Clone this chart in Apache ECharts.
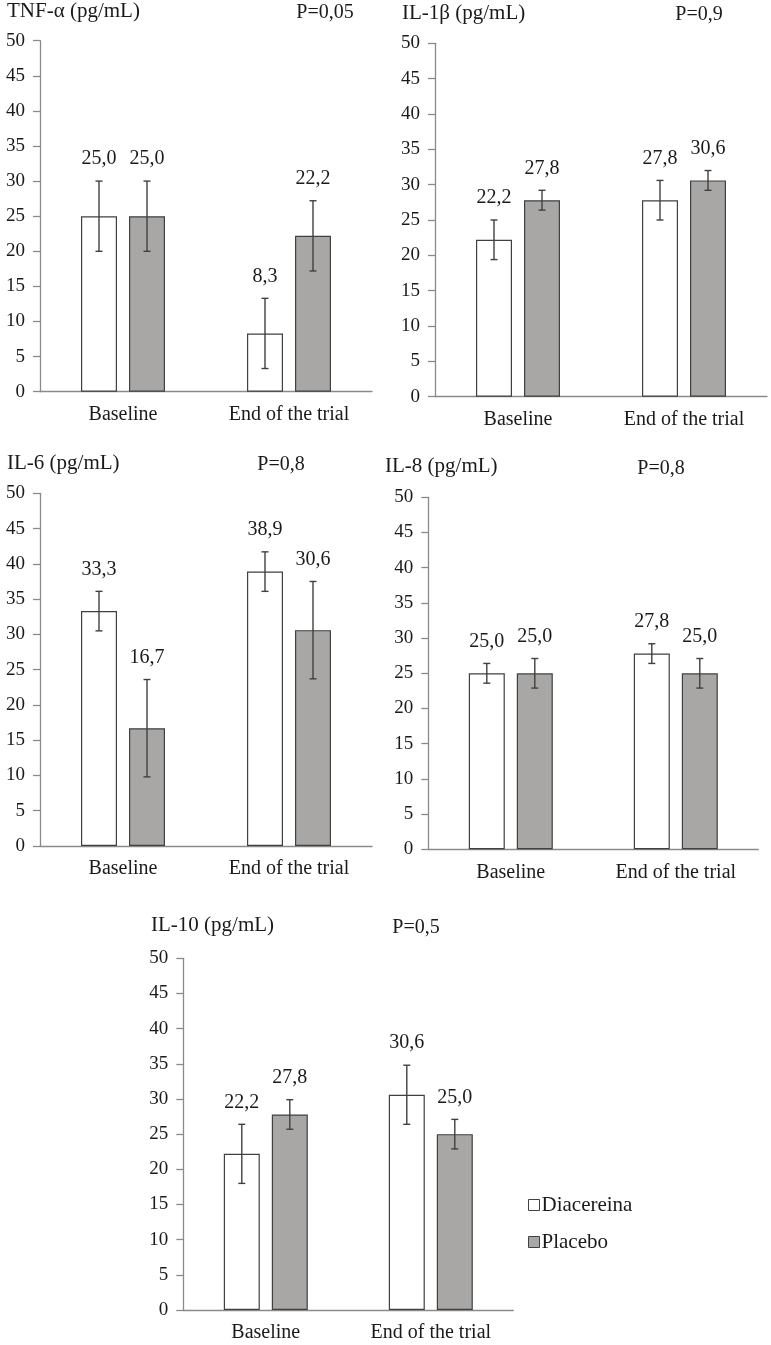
<!DOCTYPE html>
<html>
<head>
<meta charset="utf-8">
<script src="https://cdn.jsdelivr.net/npm/echarts@6/dist/echarts.min.js"></script>
<style>
html,body{margin:0;padding:0;background:#fff;}
#chart{width:771px;height:1345px;}
</style>
</head>
<body>
<div id="chart"></div>
<script>
// ---- data ----
const categories = ['Baseline', 'End of the trial'];
const yTicks = [0, 5, 10, 15, 20, 25, 30, 35, 40, 45, 50];
const panelTitles = ['TNF-α (pg/mL)', 'IL-1β (pg/mL)', 'IL-6 (pg/mL)', 'IL-8 (pg/mL)', 'IL-10 (pg/mL)'];
const pValues = ['P=0,05', 'P=0,9', 'P=0,8', 'P=0,8', 'P=0,5'];
const seriesNames = ['Diacereina', 'Placebo'];

const tnfDia = [25.0, 8.3];
const tnfPla = [25.0, 22.2];
const tnfDiaErr = [5.0, 5.0];
const tnfPlaErr = [5.0, 5.0];

const il1bDia = [22.2, 27.8];
const il1bPla = [27.8, 30.6];
const il1bDiaErr = [2.8, 2.8];
const il1bPlaErr = [1.4, 1.4];

const il6Dia = [33.3, 38.9];
const il6Pla = [16.7, 30.6];
const il6DiaErr = [2.8, 2.8];
const il6PlaErr = [6.9, 6.9];

const il8Dia = [25.0, 27.8];
const il8Pla = [25.0, 25.0];
const il8DiaErr = [1.4, 1.4];
const il8PlaErr = [2.1, 2.1];

const il10Dia = [22.2, 30.6];
const il10Pla = [27.8, 25.0];
const il10DiaErr = [4.2, 4.2];
const il10PlaErr = [2.1, 2.1];

// ---- layout / style ----
const FONT = '"Liberation Serif", "Times New Roman", serif';
const TXT = '#1a1a1a';
const AXIS = '#8a8a8a';
const EDGE = '#404040';
const GREY = '#a9a7a6';
const BAR_W = 36, BAR_GAP = 12;

const panels = [
  {dia: tnfDia, pla: tnfPla, diaErr: tnfDiaErr, plaErr: tnfPlaErr,
   grid: {left: 40, top: 40.7, width: 332, height: 351},
   title: [7, 13], p: [325, 13]},
  {dia: il1bDia, pla: il1bPla, diaErr: il1bDiaErr, plaErr: il1bPlaErr,
   grid: {left: 435, top: 43.3, width: 332, height: 353.4},
   title: [402, 15], p: [699, 15]},
  {dia: il6Dia, pla: il6Pla, diaErr: il6DiaErr, plaErr: il6PlaErr,
   grid: {left: 40, top: 493.3, width: 332, height: 352.7},
   title: [7, 465], p: [281, 465]},
  {dia: il8Dia, pla: il8Pla, diaErr: il8DiaErr, plaErr: il8PlaErr,
   grid: {left: 428.3, top: 497.3, width: 330, height: 352},
   title: [385, 468], p: [661, 469]},
  {dia: il10Dia, pla: il10Pla, diaErr: il10DiaErr, plaErr: il10PlaErr,
   grid: {left: 183.3, top: 958.3, width: 330, height: 351.7},
   title: [151, 927], p: [416, 928]}
];

const fmt = v => v.toFixed(1).replace('.', ',');

const grids = [], xAxes = [], yAxes = [], series = [], graphics = [];

panels.forEach((p, i) => {
  grids.push(Object.assign({containLabel: false}, p.grid));
  xAxes.push({
    type: 'category', gridIndex: i, data: categories,
    axisTick: {show: false},
    axisLine: {lineStyle: {color: AXIS, width: 1.3}},
    axisLabel: {color: TXT, fontFamily: FONT, fontSize: 20, margin: 13}
  });
  yAxes.push({
    type: 'value', gridIndex: i, min: yTicks[0], max: yTicks[yTicks.length - 1], interval: yTicks[1] - yTicks[0],
    splitLine: {show: false},
    axisLine: {show: true, lineStyle: {color: AXIS, width: 1.3}},
    axisTick: {show: true, length: 7, lineStyle: {color: AXIS, width: 1.3}},
    axisLabel: {color: TXT, fontFamily: FONT, fontSize: 19, margin: 15}
  });
  series.push({
    name: seriesNames[0], type: 'bar', xAxisIndex: i, yAxisIndex: i,
    data: p.dia, barWidth: BAR_W, barGap: (BAR_GAP / BAR_W * 100) + '%',
    itemStyle: {color: '#ffffff', borderColor: EDGE, borderWidth: 1.2}
  });
  series.push({
    name: seriesNames[1], type: 'bar', xAxisIndex: i, yAxisIndex: i,
    data: p.pla, barWidth: BAR_W, barGap: (BAR_GAP / BAR_W * 100) + '%',
    itemStyle: {color: GREY, borderColor: EDGE, borderWidth: 1.2}
  });
  [[p.dia, p.diaErr, -1], [p.pla, p.plaErr, 1]].forEach(([vals, errs, side]) => {
    series.push({
      type: 'custom', xAxisIndex: i, yAxisIndex: i, z: 5,
      silent: true,
      data: vals.map((v, k) => [k, v, errs[k]]),
      renderItem: function (params, api) {
        const k = api.value(0), v = api.value(1), e = api.value(2);
        const off = side * (BAR_W + BAR_GAP) / 2;
        const top = api.coord([k, v + e]);
        const bot = api.coord([k, v - e]);
        const x = top[0] + off;
        const cap = 3.5;
        const ls = {stroke: EDGE, lineWidth: 1.4};
        return {
          type: 'group',
          children: [
            {type: 'line', shape: {x1: x, y1: top[1], x2: x, y2: bot[1]}, style: ls},
            {type: 'line', shape: {x1: x - cap, y1: top[1], x2: x + cap, y2: top[1]}, style: ls},
            {type: 'line', shape: {x1: x - cap, y1: bot[1], x2: x + cap, y2: bot[1]}, style: ls},
            {type: 'text', style: {text: fmt(v), x: x, y: top[1] - 22, align: 'center', verticalAlign: 'middle',
              fill: TXT, font: '20px ' + FONT}}
          ]
        };
      }
    });
  });
  graphics.push({type: 'text', left: p.title[0], top: p.title[1] - 12,
    style: {text: panelTitles[i], fill: TXT, font: '21px ' + FONT}});
  graphics.push({type: 'text', x: p.p[0], y: p.p[1],
    style: {text: pValues[i], fill: TXT, font: '20px ' + FONT, align: 'center', verticalAlign: 'middle'}});
});

const chart = echarts.init(document.getElementById('chart'), null, {renderer: 'canvas'});
chart.setOption({
  backgroundColor: '#ffffff',
  animation: false,
  grid: grids, xAxis: xAxes, yAxis: yAxes, series: series,
  graphic: graphics,
  legend: {
    orient: 'vertical', left: 523, top: 1188, itemGap: 13,
    icon: 'rect', itemWidth: 11, itemHeight: 11,
    textStyle: {color: TXT, fontFamily: FONT, fontSize: 21, lineHeight: 24, padding: [0, 0, 0, -3]},
    data: [
      {name: seriesNames[0], itemStyle: {color: '#ffffff', borderColor: EDGE, borderWidth: 1}},
      {name: seriesNames[1], itemStyle: {color: GREY, borderColor: EDGE, borderWidth: 1}}
    ]
  }
});
</script>
</body>
</html>
